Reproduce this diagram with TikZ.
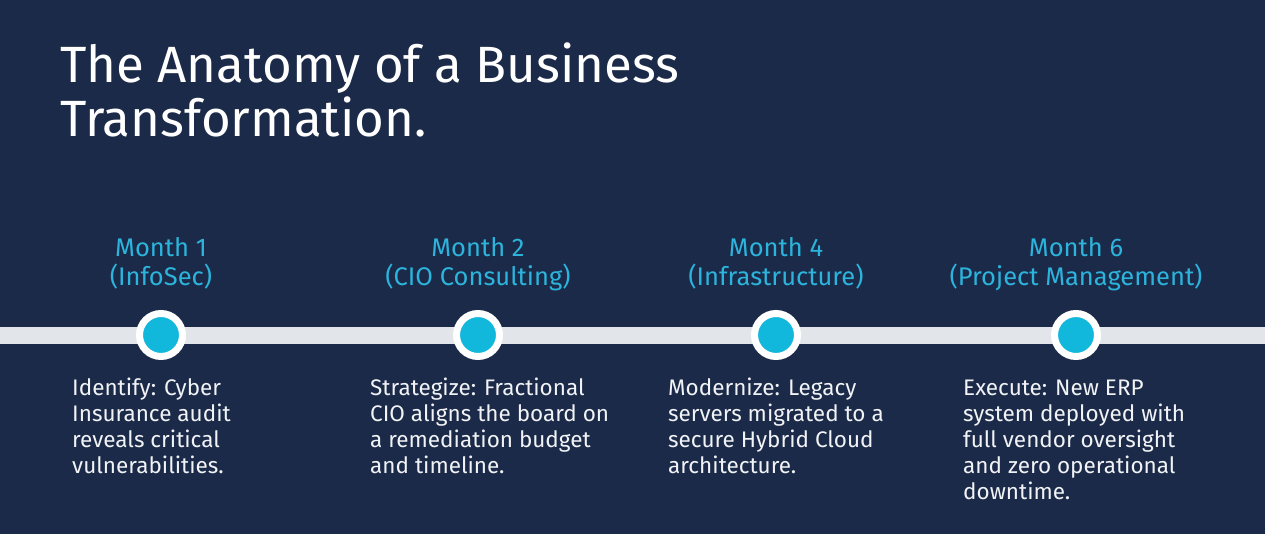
\documentclass[tikz,border=0pt]{standalone}
\usepackage{fontspec}
\setmainfont{Fira Sans}
\usepackage{xcolor}
\usepackage{tikz}
\definecolor{navybg}{HTML}{1B2A48}
\definecolor{trackgray}{HTML}{E2E6EB}
\definecolor{dotcyan}{HTML}{12B7DC}
\definecolor{labelcyan}{HTML}{2CB4DC}
\definecolor{bodywhite}{HTML}{F1F3F6}

\begin{document}
\begin{tikzpicture}[x=1pt,y=-1pt,
  month/.style={labelcyan,anchor=base,align=center,inner sep=0pt,
    font=\fontsize{25.5}{29}\selectfont},
  phase/.style={bodywhite,anchor=base west,align=left,inner sep=0pt,
    font=\fontsize{22.5}{26}\selectfont},
  milestone/.style={circle,fill=dotcyan,draw=white,line width=7pt,
    minimum size=43pt,inner sep=0pt}]
  \useasboundingbox (0,0) rectangle (1265,534);
  \fill[navybg] (0,0) rectangle (1265,534);
  % title (base = last line)
  \node[white,anchor=base west,align=left,inner sep=0pt,
    font=\fontsize{51}{54}\selectfont] (title) at (60,137)
    {The Anatomy of a Business\\Transformation.};
  % timeline track
  \coordinate (trackL) at (0,335);
  \coordinate (trackR) at (1265,335);
  \draw[trackgray,line width=17pt] (trackL)--(trackR);
  % milestones
  \node[milestone] (m1) at (161,335) {};
  \node[milestone] (m2) at (478,335) {};
  \node[milestone] (m3) at (776,335) {};
  \node[milestone] (m4) at (1076,335) {};
  \node[month] (l1) at (161,286) {Month 1\\(InfoSec)};
  \node[month] (l2) at (478,286) {Month 2\\(CIO Consulting)};
  \node[month] (l3) at (776,286) {Month 4\\(Infrastructure)};
  \node[month] (l4) at (1076,286) {Month 6\\(Project Management)};
  \node[phase] (d1) at (72,473)
    {Identify: Cyber\\Insurance audit\\reveals critical\\vulnerabilities.};
  \node[phase] (d2) at (370,473)
    {Strategize: Fractional\\CIO aligns the board on\\a remediation budget\\and timeline.};
  \node[phase] (d3) at (668,473)
    {Modernize: Legacy\\servers migrated to a\\secure Hybrid Cloud\\architecture.};
  \node[phase] (d4) at (963,499)
    {Execute: New ERP\\system deployed with\\full vendor oversight\\and zero operational\\downtime.};
\end{tikzpicture}
\end{document}
